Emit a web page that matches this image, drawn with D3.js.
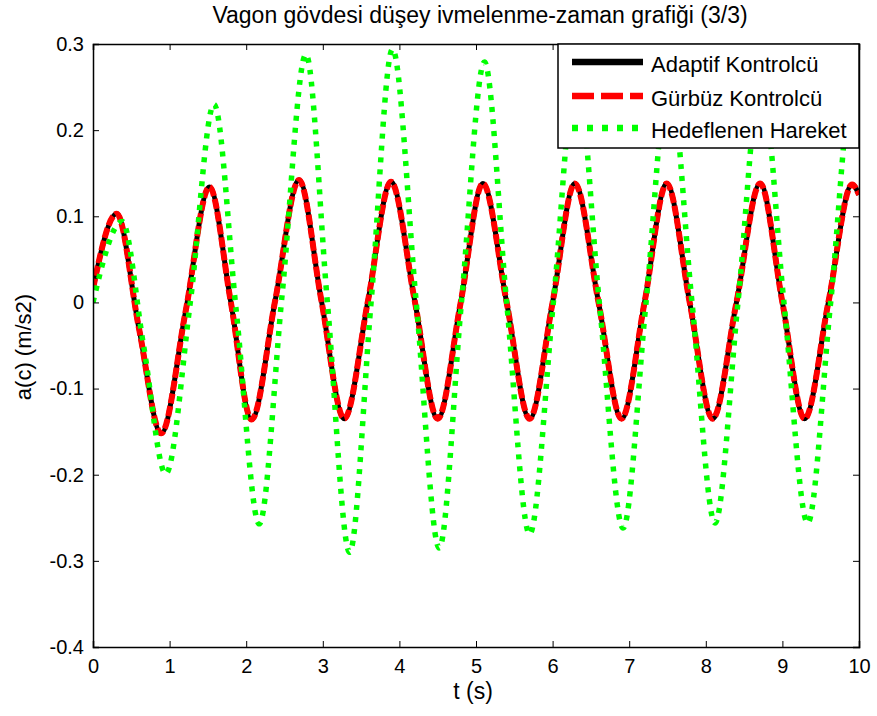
<!DOCTYPE html>
<html>
<head>
<meta charset="utf-8">
<script src="https://cdn.jsdelivr.net/npm/d3@7"></script>
<style>
  body { margin: 0; background: #fff; }
  svg { font-family: Arial, "Liberation Sans", sans-serif; }
</style>
</head>
<body>
<div id="canvas"></div>
<script>
// controller outputs (black / red)
var tCtrl = [0, 0.31, 0.60, 0.89, 1.21, 1.52, 1.80, 2.07, 2.38, 2.69, 2.98, 3.28, 3.59, 3.89, 4.20, 4.50,
             4.80, 5.09, 5.40, 5.70, 6.00, 6.29, 6.60, 6.90, 7.20, 7.49, 7.79, 8.09, 8.40, 8.71, 9.00,
             9.29, 9.60, 9.91, 10];
var aAdaptif = [0.016, 0.103, -0.03, -0.152, -0.01, 0.134, 0.0, -0.136, 0.003, 0.142, 0.003, -0.135, 0.002,
                0.140, 0.002, -0.135, 0.0, 0.138, 0.0, -0.135, 0.0, 0.138, 0.0, -0.135, 0.0, 0.138, 0.0,
                -0.135, 0.0, 0.138, 0.0, -0.135, 0.0, 0.137, 0.125];
var aGurbuz = [0.016, 0.103, -0.03, -0.152, -0.01, 0.134, 0.0, -0.136, 0.003, 0.142, 0.003, -0.135, 0.002,
               0.140, 0.002, -0.135, 0.0, 0.138, 0.0, -0.135, 0.0, 0.138, 0.0, -0.135, 0.0, 0.138, 0.0,
               -0.135, 0.0, 0.138, 0.0, -0.135, 0.0, 0.137, 0.125];

// target motion (green dotted)
var tHedef = [0, 0.38, 0.66, 0.95, 1.27, 1.58, 1.87, 2.17, 2.47, 2.78, 3.06, 3.35, 3.63, 3.91, 4.22, 4.52,
              4.81, 5.11, 5.40, 5.70, 6.01, 6.31, 6.61, 6.92, 7.22, 7.52, 7.82, 8.12, 8.42, 8.72, 9.02,
              9.33, 9.63, 9.93, 10];
var aHedef = [0.0, 0.094, -0.05, -0.199, 0.0, 0.230, -0.01, -0.257, 0.01, 0.288, 0.0, -0.290, 0.0, 0.294,
              0.0, -0.285, 0.0, 0.279, 0.0, -0.269, 0.0, 0.270, 0.0, -0.262, 0.0, 0.265, 0.0, -0.256, 0.0,
              0.260, 0.0, -0.256, 0.0, 0.260, 0.250];

var xTicks = [0, 1, 2, 3, 4, 5, 6, 7, 8, 9, 10];
var yTicks = [-0.4, -0.3, -0.2, -0.1, 0, 0.1, 0.2, 0.3];
var yTickLabels = ['-0.4', '-0.3', '-0.2', '-0.1', '0', '0.1', '0.2', '0.3'];
var seriesNames = ['Adaptif Kontrolcü', 'Gürbüz Kontrolcü', 'Hedeflenen Hareket'];

var W = 877, H = 716;
var m = {t: 44, r: 18, b: 69, l: 93},
    w = W - m.l - m.r,
    h = H - m.t - m.b;

var svg = d3.select('#canvas').append('svg')
    .attr('width', W)
    .attr('height', H);

var x = d3.scaleLinear().domain([0, 10]).range([0, w]);
var y = d3.scaleLinear().domain([-0.4, 0.3]).range([h, 0]);

var plot = svg.append('g')
    .attr('transform', 'translate(' + m.l + ',' + m.t + ')');

plot.append('defs').append('clipPath').attr('id', 'clip')
    .append('rect').attr('width', w).attr('height', h);

function pts(ts, vs) { return ts.map(function(t, i) { return [t, vs[i]]; }); }

var line = d3.line()
    .x(function(d) { return x(d[0]); })
    .y(function(d) { return y(d[1]); })
    .curve(d3.curveMonotoneX);

var lines = plot.append('g').attr('clip-path', 'url(#clip)');

lines.append('path').datum(pts(tCtrl, aAdaptif))
    .attr('d', line).attr('fill', 'none')
    .attr('stroke', '#000').attr('stroke-width', 5);

lines.append('path').datum(pts(tCtrl, aGurbuz))
    .attr('d', line).attr('fill', 'none')
    .attr('stroke', '#ff0000').attr('stroke-width', 6)
    .attr('stroke-dasharray', '10,3');

lines.append('path').datum(pts(tHedef, aHedef))
    .attr('d', line).attr('fill', 'none')
    .attr('stroke', '#00ff00').attr('stroke-width', 5.5)
    .attr('stroke-dasharray', '5,7');

// axes, matlab style: inward ticks on all four sides
var fs = '20px';
plot.append('g').attr('transform', 'translate(0,' + h + ')')
    .call(d3.axisBottom(x).tickValues(xTicks).tickSize(-6).tickPadding(12).tickFormat(d3.format('d')))
    .call(function(g) { g.selectAll('text').style('font-size', fs).attr('fill', '#000'); });
plot.append('g')
    .call(d3.axisTop(x).tickValues(xTicks).tickSize(-6).tickFormat(''));
plot.append('g')
    .call(d3.axisLeft(y).tickValues(yTicks).tickSize(-6).tickPadding(9)
      .tickFormat(function(d, i) { return yTickLabels[i]; }))
    .call(function(g) { g.selectAll('text').style('font-size', fs).attr('fill', '#000'); });
plot.append('g').attr('transform', 'translate(' + w + ',0)')
    .call(d3.axisRight(y).tickValues(yTicks).tickSize(-6).tickFormat(''));
plot.selectAll('.domain').attr('stroke', '#000').attr('stroke-width', 1.5);
plot.selectAll('.tick line').attr('stroke', '#000');

// legend
var lg = plot.append('g').attr('transform', 'translate(' + (w - 301) + ',0)');
lg.append('rect').attr('width', 301).attr('height', 104)
    .attr('fill', '#fff').attr('stroke', '#000').attr('stroke-width', 1.5);
var lgStyle = [
  {c: '#000', d: null},
  {c: '#ff0000', d: '22,7'},
  {c: '#00ff00', d: '6,9'}
];
var rowY = [18, 52, 84];
seriesNames.forEach(function(s, i) {
  lg.append('line').attr('x1', 14).attr('x2', 85).attr('y1', rowY[i]).attr('y2', rowY[i])
    .attr('stroke', lgStyle[i].c).attr('stroke-width', 6.5)
    .attr('stroke-dasharray', lgStyle[i].d);
  lg.append('text').attr('x', 93).attr('y', rowY[i] + 10)
    .style('font-size', '22px').text(s);
});

// title and labels
svg.append('text').attr('x', 480).attr('y', 23).attr('text-anchor', 'middle')
    .style('font-size', '23px').text('Vagon gövdesi düşey ivmelenme-zaman grafiği (3/3)');
svg.append('text').attr('x', 473).attr('y', 699).attr('text-anchor', 'middle')
    .style('font-size', '23px').text('t (s)');
svg.append('text').attr('transform', 'translate(31,347) rotate(-90)').attr('text-anchor', 'middle')
    .style('font-size', '22px').text('a(c) (m/s2)');
</script>
</body>
</html>
